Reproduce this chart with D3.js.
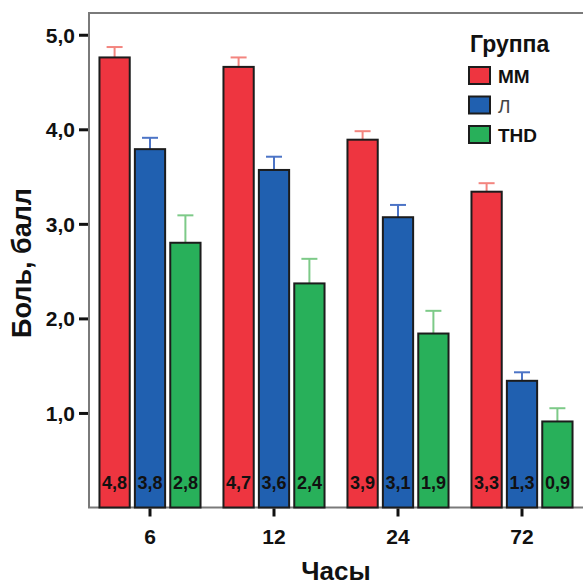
<!DOCTYPE html>
<html>
<head>
<meta charset="utf-8">
<script src="https://cdn.jsdelivr.net/npm/d3@7"></script>
<style>
  body { margin: 0; background: #fff; }
  svg text { font-family: "Liberation Sans", Arial, sans-serif; font-weight: bold; fill: #111; }
</style>
</head>
<body>
<svg id="chart"></svg>
<script>
// data
var hours = ["6", "12", "24", "72"];
var groups = ["ММ", "Л", "THD"];
var valMM  = [4.76, 4.66, 3.89, 3.34];
var valL   = [3.79, 3.57, 3.07, 1.34];
var valTHD = [2.80, 2.37, 1.84, 0.91];
// upper end of the error bars
var errMM  = [4.87, 4.76, 3.98, 3.43];
var errL   = [3.91, 3.71, 3.20, 1.43];
var errTHD = [3.09, 2.63, 2.08, 1.05];
// printed labels inside bars
var labMM  = ["4,8", "4,7", "3,9", "3,3"];
var labL   = ["3,8", "3,6", "3,1", "1,3"];
var labTHD = ["2,8", "2,4", "1,9", "0,9"];
var yTicks = [1, 2, 3, 4, 5];
var yTickLabels = ["1,0", "2,0", "3,0", "4,0", "5,0"];

var fills = ["#ee3540", "#2060b0", "#28b05a"];
var errColors = ["#f3857f", "#4c74c6", "#7dca88"];

var screen = {width: 583, height: 588};
var plot = {left: 89, top: 13, right: 590, bottom: 507.5};

var svg = d3.select("#chart")
    .attr("width", screen.width)
    .attr("height", screen.height);

var rows = hours.map(function(h, i) {
    return {
        hour: h,
        bars: [
            {g: 0, v: valMM[i],  e: errMM[i],  lab: labMM[i]},
            {g: 1, v: valL[i],   e: errL[i],   lab: labL[i]},
            {g: 2, v: valTHD[i], e: errTHD[i], lab: labTHD[i]}
        ]
    };
});

var xScale = d3.scaleBand()
    .domain(hours)
    .range([88, 584])
    .paddingInner(0.185)
    .paddingOuter(0.0925);

var xInner = d3.scaleBand()
    .domain([0, 1, 2])
    .range([0, xScale.bandwidth()])
    .paddingInner(0.145);

var yScale = d3.scaleLinear()
    .domain([0, 5.23])
    .range([plot.bottom, plot.top]);

// frame
svg.append("rect")
    .attr("x", plot.left)
    .attr("y", plot.top)
    .attr("width", plot.right - plot.left)
    .attr("height", plot.bottom - plot.top)
    .attr("fill", "none")
    .attr("stroke", "#7a7a7a")
    .attr("stroke-width", 2);

// bars
var groupsG = svg.selectAll(".hour")
    .data(rows)
    .enter()
    .append("g")
    .attr("class", "hour")
    .attr("transform", function(d) { return "translate(" + xScale(d.hour) + ",0)"; });

var bars = groupsG.selectAll(".bar")
    .data(function(d) { return d.bars; })
    .enter()
    .append("g")
    .attr("class", "bar");

// error bars (upper only)
bars.append("line")
    .attr("x1", function(d) { return xInner(d.g) + xInner.bandwidth() / 2; })
    .attr("x2", function(d) { return xInner(d.g) + xInner.bandwidth() / 2; })
    .attr("y1", function(d) { return yScale(d.v); })
    .attr("y2", function(d) { return yScale(d.e); })
    .attr("stroke", function(d) { return errColors[d.g]; })
    .attr("stroke-width", 2);

bars.append("line")
    .attr("x1", function(d) { return xInner(d.g) + xInner.bandwidth() / 2 - 8; })
    .attr("x2", function(d) { return xInner(d.g) + xInner.bandwidth() / 2 + 8; })
    .attr("y1", function(d) { return yScale(d.e); })
    .attr("y2", function(d) { return yScale(d.e); })
    .attr("stroke", function(d) { return errColors[d.g]; })
    .attr("stroke-width", 2);

bars.append("rect")
    .attr("x", function(d) { return xInner(d.g); })
    .attr("y", function(d) { return yScale(d.v); })
    .attr("width", xInner.bandwidth())
    .attr("height", function(d) { return yScale(0) - yScale(d.v); })
    .attr("fill", function(d) { return fills[d.g]; })
    .attr("stroke", "#1c1c1c")
    .attr("stroke-width", 2);

bars.append("text")
    .text(function(d) { return d.lab; })
    .attr("x", function(d) { return xInner(d.g) + xInner.bandwidth() / 2; })
    .attr("y", yScale(0) - 19)
    .attr("text-anchor", "middle")
    .style("font-size", "18px");

// axes
var yAxis = d3.axisLeft(yScale)
    .tickValues(yTicks)
    .tickFormat(function(d, i) { return yTickLabels[i]; })
    .tickSize(9)
    .tickPadding(4);

var yG = svg.append("g")
    .attr("transform", "translate(" + (plot.left - 1) + ",0)")
    .call(yAxis);
yG.select(".domain").remove();
yG.selectAll(".tick line").attr("stroke", "#111").attr("stroke-width", 3);
yG.selectAll(".tick text")
    .attr("font-family", null)
    .style("font-size", "21px")
    .attr("dy", "0.36em");

var xAxis = d3.axisBottom(xScale)
    .tickSize(8)
    .tickPadding(13);

var xG = svg.append("g")
    .attr("transform", "translate(0," + (plot.bottom + 1) + ")")
    .call(xAxis);
xG.select(".domain").remove();
xG.selectAll(".tick line").attr("stroke", "#111").attr("stroke-width", 3);
xG.selectAll(".tick text")
    .style("font-size", "21px");

// axis titles
svg.append("text")
    .text("Боль, балл")
    .attr("text-anchor", "middle")
    .attr("transform", "translate(31,263) rotate(-90)")
    .style("font-size", "27px");

svg.append("text")
    .text("Часы")
    .attr("text-anchor", "middle")
    .attr("x", 336)
    .attr("y", 580)
    .style("font-size", "26px");

// legend
var legend = svg.append("g")
    .attr("transform", "translate(469,0)");

legend.append("text")
    .text("Группа")
    .attr("x", 1)
    .attr("y", 52)
    .style("font-size", "23px");

var items = legend.selectAll(".item")
    .data(groups)
    .enter()
    .append("g")
    .attr("class", "item")
    .attr("transform", function(d, i) { return "translate(0," + (67 + i * 29.5) + ")"; });

items.append("rect")
    .attr("width", 21)
    .attr("height", 17)
    .attr("fill", function(d, i) { return fills[i]; })
    .attr("stroke", "#1c1c1c")
    .attr("stroke-width", 2);

items.append("text")
    .text(function(d) { return d; })
    .attr("x", 29)
    .attr("y", 16)
    .style("font-size", "19px")
    .style("font-weight", function(d, i) { return i == 1 ? "normal" : "bold"; })
    .style("fill", function(d, i) { return i == 1 ? "#444" : "#111"; });
</script>
</body>
</html>
